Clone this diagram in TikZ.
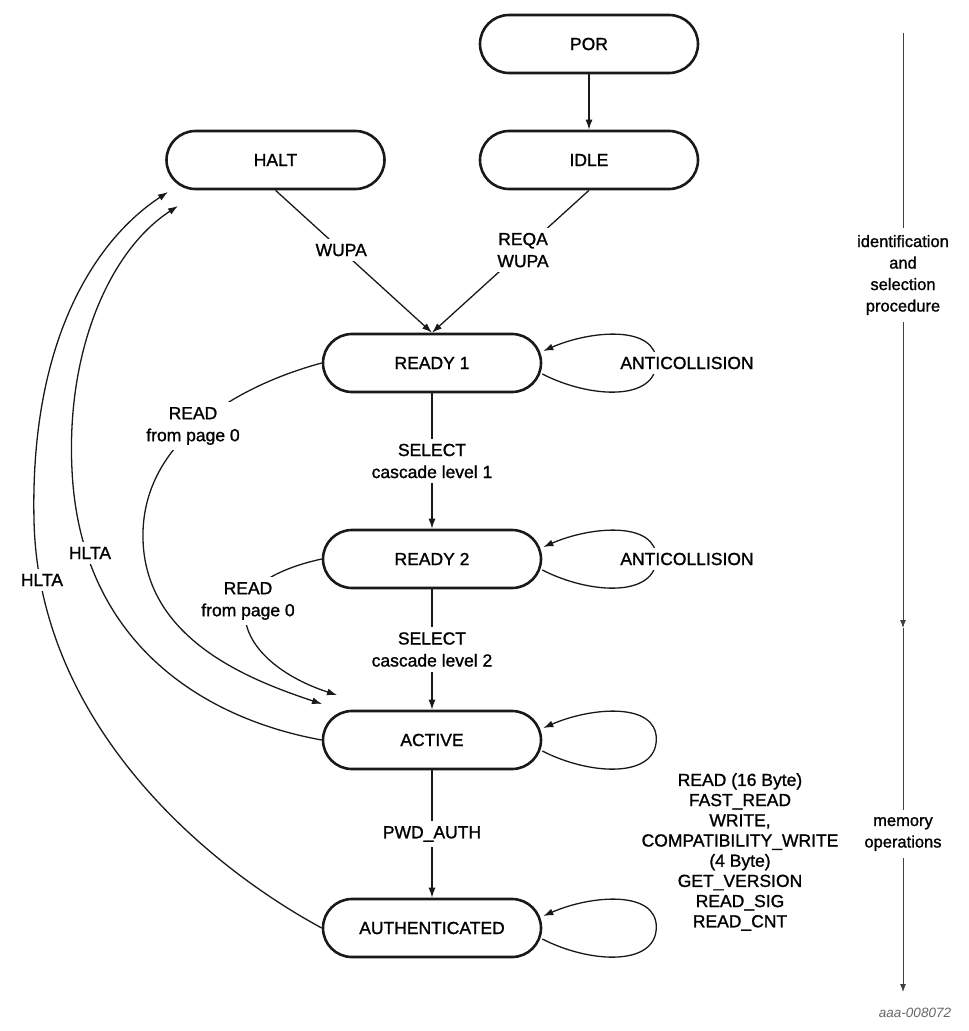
\documentclass[tikz,border=0pt]{standalone}
\usepackage{fontspec}
\setmainfont{Liberation Sans}
\newfontfamily\dgface[FakeBold=1.2]{Liberation Sans}
\usetikzlibrary{arrows.meta,calc}
\newcommand\dgfont{\dgface\fontsize{17.5}{22}\selectfont}
\newcommand\dgmemfont{\dgface\fontsize{17.5}{20.2}\selectfont}
\newcommand\dgaxfont{\dgface\fontsize{16.5}{21.5}\selectfont}
\newcommand\dgloop[1]{%
  \draw[conn] ($(#1.east)+(0,11)$) .. controls ($(#1.east)+(49,36)$) and ($(#1.east)+(114,38)$) .. ($(#1.east)+(114,-1)$)
     .. controls ($(#1.east)+(114,-38)$) and ($(#1.east)+(49,-33)$) .. ($(#1.east)+(1,-12)$);}
\begin{document}
\begin{tikzpicture}[x=1pt,y=-1pt,
  state/.style={draw=black!90, line width=2.6pt, rounded corners=29pt, minimum width=218pt, minimum height=58pt, inner sep=0pt, font=\dgfont},
  conn/.style={draw=black!90, line width=1.3pt, -{Latex[length=10pt,width=7pt]}},
  lbl/.style={fill=white, inner sep=5pt, align=center, font=\dgfont},
  axis/.style={draw=black!75, line width=0.9pt, -{Latex[length=8pt,width=6pt]}},
  axlbl/.style={fill=white, inner sep=7pt, align=center, font=\dgaxfont}]
\useasboundingbox (0,0) rectangle (969,1031);

% states
\node[state] (por)  at (589,44)    {POR};
\node[state] (idle) at (589,160)   {IDLE};
\node[state] (halt) at (275.5,160) {HALT};
\node[state] (r1)   at (432,363)   {READY 1};
\node[state] (r2)   at (432,559)   {READY 2};
\node[state] (act)  at (432,740)   {ACTIVE};
\node[state] (auth) at (432,928)   {AUTHENTICATED};

% straight transitions
\draw[conn] (por) -- (idle);
\draw[conn] (halt.south) -- node[lbl,pos=0.42] {WUPA} (r1.north);
\draw[conn] (idle.south) -- node[lbl,pos=0.42] {REQA\\WUPA} (r1.north);
\draw[conn] (r1) -- node[lbl] {SELECT\\cascade level 1} (r2);
\draw[conn] (r2) -- node[lbl] {SELECT\\cascade level 2} (act);
\draw[conn] (act) -- node[lbl] {PWD\_AUTH} (auth);

% self loops
\dgloop{r1}
\dgloop{r2}
\dgloop{act}
\dgloop{auth}
\node[lbl] (ac1) at (687,363) {ANTICOLLISION};
\node[lbl] (ac2) at (687,559) {ANTICOLLISION};

% READ from page 0
\coordinate (rd1end) at (322,704);
\coordinate (rd2end) at (337,695);
\draw[conn] (r1.west) .. controls (240,385) and (140,440) .. (143,540)
   .. controls (146,640) and (250,680) .. (rd1end);
\draw[conn] (r2.west) .. controls (280,568) and (250,585) .. (245,605)
   .. controls (240,650) and (290,680) .. (rd2end);
\node[lbl] (rdl1) at (193,426) {READ\\from page 0};
\node[lbl] (rdl2) at (248,601) {READ\\from page 0};

% HLTA
\coordinate (h1end) at (178,206);
\coordinate (h2end) at (168,192);
\draw[conn] (act.west) .. controls (200,718) and (80,640) .. (72,470)
   .. controls (66,350) and (110,250) .. (h1end);
\draw[conn] (auth.west) .. controls (200,862) and (38,720) .. (34,520)
   .. controls (30,340) and (95,240) .. (h2end);
\node[lbl] (hl1) at (90,553) {HLTA};
\node[lbl] (hl2) at (42,580) {HLTA};

% memory commands
\node[font=\dgmemfont, align=center] (ops) at (740,852)
  {READ (16 Byte)\\FAST\_READ\\WRITE,\\COMPATIBILITY\_WRITE\\(4 Byte)\\GET\_VERSION\\READ\_SIG\\READ\_CNT};

% right-hand axis
\coordinate (ax0) at (903,33);
\coordinate (ax1) at (903,628);
\coordinate (ax2) at (903,992);
\draw[axis] (ax0) -- (ax1);
\draw[axis] (ax1) -- (ax2);
\node[axlbl] (idlbl) at (903,275) {identification\\and\\selection\\procedure};
\node[axlbl] (memlbl) at (903,834) {memory\\operations};

\node[font=\fontsize{13.5}{16}\selectfont\itshape, text=black!60] (fig) at (915,1013) {aaa-008072};
\end{tikzpicture}
\end{document}
